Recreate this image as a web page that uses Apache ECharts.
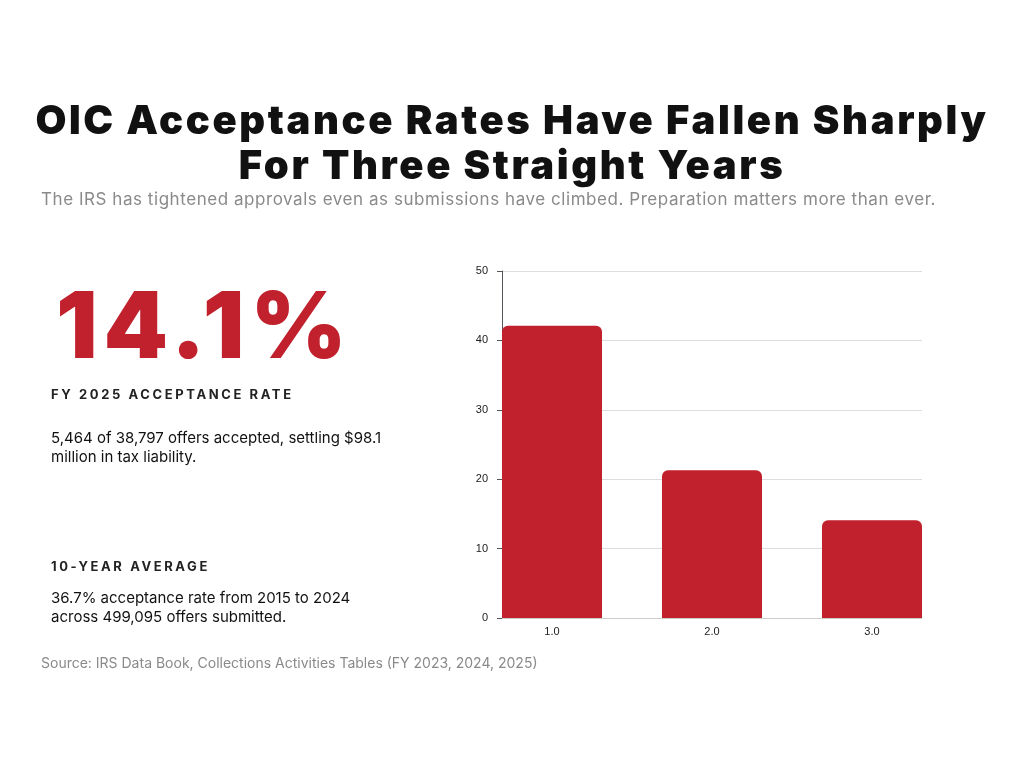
<!DOCTYPE html>
<html><head><meta charset="utf-8">
<script src="https://cdn.jsdelivr.net/npm/echarts@6/dist/echarts.min.js"></script>
<style>
body{margin:0;background:#fff;font-family:Inter,"Noto Sans",sans-serif}
#wrap{position:relative;width:1024px;height:768px}
#chart{position:absolute;left:0;top:0;width:1024px;height:768px}
.t{position:absolute;white-space:nowrap}
</style></head><body>
<div id="wrap">
<div id="chart"></div>
<div class="t" style="left:0;width:1024px;top:97px;text-align:center;font:900 40px/45px Inter,sans-serif;color:#111;letter-spacing:2.6px">OIC Acceptance Rates Have Fallen Sharply<br>For Three Straight Years</div>
<div class="t" style="left:41px;top:189px;font:400 17px Inter,sans-serif;color:#8a8a8a;letter-spacing:0.55px">The IRS has tightened approvals even as submissions have climbed. Preparation matters more than ever.</div>
<div class="t" style="left:56px;top:270px;font:900 92px/110px Inter,sans-serif;color:#c0212c;letter-spacing:6px">14.1%</div>
<div class="t" style="left:51px;top:386px;font:700 13px Inter,sans-serif;color:#222;letter-spacing:2.6px">FY 2025 ACCEPTANCE RATE</div>
<div class="t" style="left:51px;top:428px;font:400 15px/19px Inter,sans-serif;color:#111">5,464 of 38,797 offers accepted, settling $98.1<br>million in tax liability.</div>
<div class="t" style="left:51px;top:558px;font:700 13px Inter,sans-serif;color:#222;letter-spacing:2.6px">10-YEAR AVERAGE</div>
<div class="t" style="left:51px;top:588px;font:400 15px/19px Inter,sans-serif;color:#111">36.7% acceptance rate from 2015 to 2024<br>across 499,095 offers submitted.</div>
<div class="t" style="left:41px;top:654px;font:400 14px Inter,sans-serif;color:#8a8a8a">Source: IRS Data Book, Collections Activities Tables (FY 2023, 2024, 2025)</div>
</div>
<script>
var positions = [1, 2, 3];
var rates = [42.1, 21.3, 14.1];

var chart = echarts.init(document.getElementById('chart'));
chart.setOption({
    animation: false,
    grid: {left: 502, right: 102, top: 271, bottom: 150},
    xAxis: {
        type: 'value',
        min: 0.6875, max: 3.3125,
        splitLine: {show: false},
        axisTick: {show: false},
        axisLine: {show: true, lineStyle: {color: '#ccc'}},
        axisLabel: {
            customValues: positions,
            color: '#222', fontSize: 11, fontFamily: 'Liberation Sans',
            formatter: function (v) { return v.toFixed(1); }
        }
    },
    yAxis: {
        type: 'value',
        min: 0, max: 50, interval: 10,
        axisLabel: {color: '#222', fontSize: 11, fontFamily: 'Liberation Sans', margin: 14},
        splitLine: {lineStyle: {color: '#ddd'}}
    },
    series: [{
        type: 'bar',
        data: positions.map(function (p, i) { return [p, rates[i]]; }),
        barWidth: 100,
        itemStyle: {color: '#c0212c', borderRadius: [6, 6, 0, 0]}
    }]
});
</script>
</body></html>
